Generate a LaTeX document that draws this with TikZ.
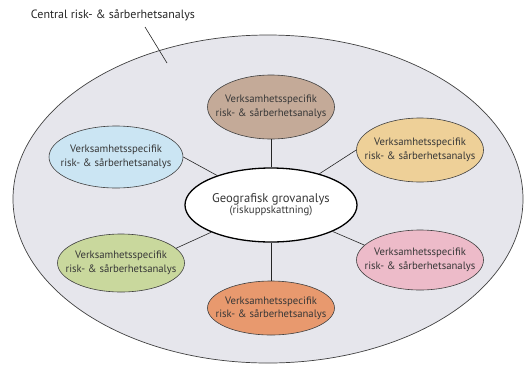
\documentclass[tikz,border=0pt]{standalone}
\usepackage{fontspec}
\setmainfont{PT Sans}
\usepackage{xcolor}
\usepackage{tikz}
\usetikzlibrary{shapes.geometric,positioning}
\definecolor{regiongrey}{RGB}{230,230,236}
\definecolor{brownrose}{RGB}{196,170,152}
\definecolor{skyblue}{RGB}{203,229,243}
\definecolor{sand}{RGB}{238,208,152}
\definecolor{sage}{RGB}{201,216,157}
\definecolor{rosepink}{RGB}{237,187,201}
\definecolor{apricot}{RGB}{232,153,110}
\definecolor{txtgrey}{RGB}{55,55,55}

\begin{document}
\begin{tikzpicture}[x=1pt,y=-1pt,
          unit/.style={ellipse,draw=black!75,line width=0.6pt,
                       inner xsep=-14pt,inner ysep=0pt,
                       minimum width=127pt,minimum height=64pt,
                       font=\fontsize{10.7}{13.4}\selectfont,text=txtgrey,align=center},
          link/.style={draw=black!85,line width=0.6pt}]
        \useasboundingbox (0,0) rectangle (524,365);
        % outer region
        \node[ellipse,draw=black!75,line width=0.7pt,fill=regiongrey,
              minimum width=510pt,minimum height=328pt] (region) at (268,199) {};
        \node[font=\fontsize{12}{14}\selectfont,text=black!85] (central) at (113,15)
              {Central risk- \& sårberhetsanalys};
        \coordinate (tip) at (167,63);
        \draw[link] (145,27) -- (tip);
        % centre
        \node[ellipse,draw=black,line width=1.3pt,fill=white,
              minimum width=172pt,minimum height=74pt,inner xsep=-6pt,inner ysep=0pt,
              align=center,text=txtgrey] (geo) at (271,205)
              {{\fontsize{12.6}{15}\selectfont Geografisk grovanalys}\\[-1pt]
               {\fontsize{10.8}{13}\selectfont (riskuppskattning)}};
        % units
        \node[unit,fill=brownrose] (top) at (271,107)
              {Verksamhetsspecifik\\risk- \& sårberhetsanalys};
        \node[unit,fill=skyblue,minimum width=134pt,minimum height=62pt] (nw) at (116,157)
              {Verksamhetsspecifik\\risk- \& sårberhetsanalys};
        \node[unit,fill=sand] (ne) at (420,150)
              {Verksamhetsspecifik\\risk- \& sårberhetsanalys};
        \node[unit,fill=sage,minimum height=58pt] (sw) at (121,263)
              {Verksamhetsspecifik\\risk- \& sårberhetsanalys};
        \node[unit,fill=rosepink,minimum height=60pt] (se) at (420,260)
              {Verksamhetsspecifik\\risk- \& sårberhetsanalys};
        \node[unit,fill=apricot,minimum height=54pt] (bot) at (271,308)
              {Verksamhetsspecifik\\risk- \& sårberhetsanalys};
        % links
        \draw[link] (top) -- (geo);
        \draw[link] (bot) -- (geo);
        \draw[link] (nw.east) -- (geo);
        \draw[link] (ne.west) -- (geo);
        \draw[link] (sw.15) -- (geo);
        \draw[link] (se.165) -- (geo);
      \end{tikzpicture}
\end{document}
